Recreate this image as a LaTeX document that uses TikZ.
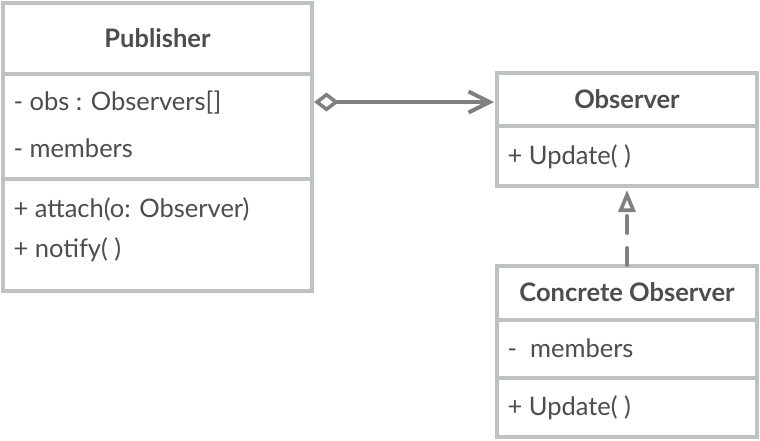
\documentclass[tikz,border=0pt]{standalone}
\usepackage{fontspec}
\setmainfont{Lato}
\usetikzlibrary{arrows.meta}
\definecolor{boxc}{RGB}{190,194,195}
\definecolor{txtc}{RGB}{75,77,79}
\definecolor{linec}{RGB}{128,128,128}
\tikzset{
  umlbox/.style={draw=boxc, line width=3.6pt, fill=white},
  divider/.style={draw=boxc, line width=3.6pt},
  ttl/.style={font=\fontsize{25.5}{30}\selectfont\bfseries, text=txtc},
  itm/.style={font=\fontsize{25.5}{30}\selectfont, text=txtc, anchor=west},
  conn/.style={draw=linec, line width=4pt},
}
\begin{document}
\begin{tikzpicture}[x=1pt,y=-1pt]
\useasboundingbox (0,0) rectangle (760,440);
% Publisher
\draw[umlbox] (3,3) rectangle (312,291);
\draw[divider] (3,74) -- (312,74);
\draw[divider] (3,179) -- (312,179);
\node[ttl] (pubt) at (157.5,38) {Publisher};
\node[itm] (pub1) at (10,103) {- obs : Observers[]};
\node[itm] (pub2) at (10,148) {- members};
\node[itm] (pub3) at (10,209) {+ attach(o: Observer)};
\node[itm] (pub4) at (10,250) {+ notify( )};
% Observer
\draw[umlbox] (497,73) rectangle (757,186);
\draw[divider] (497,126) -- (757,126);
\node[ttl] (obst) at (627,99.5) {Observer};
\node[itm] (obs1) at (504,157) {+ Update( )};
% Concrete Observer
\draw[umlbox] (497,266) rectangle (757,437);
\draw[divider] (497,320) -- (757,320);
\draw[divider] (497,378) -- (757,378);
\node[ttl] (cont) at (627,292) {Concrete Observer};
\node[itm] (con1) at (504,348) {-\ \ members};
\node[itm] (con2) at (504,408) {+ Update( )};
% connectors
\coordinate (aggS) at (314,102);
\coordinate (aggE) at (494,102);
\draw[conn, {Diamond[open, length=25pt, width=19pt, line width=3.6pt]}-{Straight Barb[length=21pt, width=21pt, line width=4pt]}] (aggS) -- (aggE);
\coordinate (realS) at (627,265);
\coordinate (realE) at (627,190);
\draw[conn, line cap=round, dash pattern=on 17pt off 15pt, -{Triangle[open, length=22pt, width=17pt, line width=3.6pt]}] (realS) -- (realE);
\end{tikzpicture}
\end{document}
